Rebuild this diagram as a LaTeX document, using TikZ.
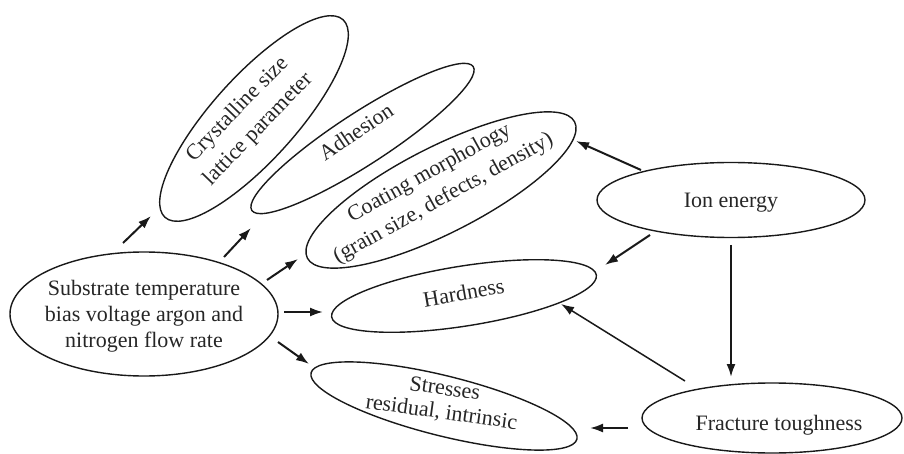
\documentclass[tikz,border=0pt]{standalone}
\usepackage{fontspec}
\setmainfont{Liberation Serif}
\usetikzlibrary{shapes.geometric,arrows.meta}
\tikzset{
  oval/.style={draw=black!90, line width=1.4pt, ellipse, inner sep=0pt},
  lbl/.style={anchor=base, inner sep=0pt, text=black!85,
     font=\fontsize{22}{26}\selectfont},
  lblr/.style={anchor=base, inner sep=0pt, text=black!85,
     font=\fontsize{22}{29}\selectfont},
  arr/.style={line width=2pt, draw=black!90, -{Latex[length=13pt,width=9pt]}},
  arrthin/.style={line width=1.5pt, draw=black!90, -{Latex[length=13pt,width=9pt]}}
}
\newcommand{\tl}[1]{\begin{tabular}[t]{@{}c@{}}#1\end{tabular}}
\begin{document}
\begin{tikzpicture}[x=1pt,y=-1pt]
\useasboundingbox (0,0) rectangle (904,454);
% ellipses
\node[oval, minimum width=268pt, minimum height=124pt] (sub) at (144,314) {};
\node[oval, minimum width=266pt, minimum height=84pt, rotate=48] (cry) at (254,118.5) {};
\node[oval, minimum width=264pt, minimum height=52pt, rotate=33] (adh) at (362.5,138.5) {};
\node[oval, minimum width=300pt, minimum height=86pt, rotate=27] (coat) at (441,190) {};
\node[oval, minimum width=268pt, minimum height=60pt, rotate=9] (hard) at (464,296) {};
\node[oval, minimum width=274pt, minimum height=60pt, rotate=-14] (str) at (444,406) {};
\node[oval, minimum width=268pt, minimum height=75pt] (ion) at (731,200) {};
\node[oval, minimum width=260pt, minimum height=70pt] (frac) at (772,418) {};
% labels
\node[lbl] (subt) at (144,295) {\tl{Substrate temperature\\bias voltage argon and\\nitrogen flow rate}};
\node[lblr, rotate=46] (cryt) at (241.5,113) {\tl{Crystalline size\\lattice parameter}};
\node[lbl, rotate=34] (adht) at (360,138) {Adhesion};
\node[lblr, rotate=29] (coatt) at (432,178) {\tl{Coating morphology\\(grain size, defects, density)}};
\node[lbl, rotate=10] (hardt) at (465,300) {Hardness};
\node[lbl, font=\fontsize{22}{24}\selectfont, rotate=-8] (strt) at (444,395) {\tl{Stresses\\residual, intrinsic}};
\node[lbl] (iont) at (731,208) {Ion energy};
\node[lbl] (fract) at (779,430) {Fracture toughness};
% arrow end points
\coordinate (s1) at (123,243); \coordinate (e1) at (151,216);
\coordinate (s2) at (224,257); \coordinate (e2) at (251,228);
\coordinate (s3) at (267,280); \coordinate (e3) at (298,259);
\coordinate (s4) at (284,312); \coordinate (e4) at (323,312);
\coordinate (s5) at (278,342); \coordinate (e5) at (309,364);
\coordinate (s6) at (641,170); \coordinate (e6) at (576,141);
\coordinate (s7) at (650,235); \coordinate (e7) at (605,265);
\coordinate (s8) at (731,245); \coordinate (e8) at (731,377);
\coordinate (s9) at (685,381); \coordinate (e9) at (561,304);
\coordinate (s10) at (628,428); \coordinate (e10) at (590,428);
% arrows
\draw[arr] (s1) -- (e1);
\draw[arr] (s2) -- (e2);
\draw[arr] (s3) -- (e3);
\draw[arr] (s4) -- (e4);
\draw[arr] (s5) -- (e5);
\draw[arr] (s6) -- (e6);
\draw[arr] (s7) -- (e7);
\draw[arr] (s8) -- (e8);
\draw[arrthin] (s9) -- (e9);
\draw[arr] (s10) -- (e10);
\end{tikzpicture}
\end{document}
